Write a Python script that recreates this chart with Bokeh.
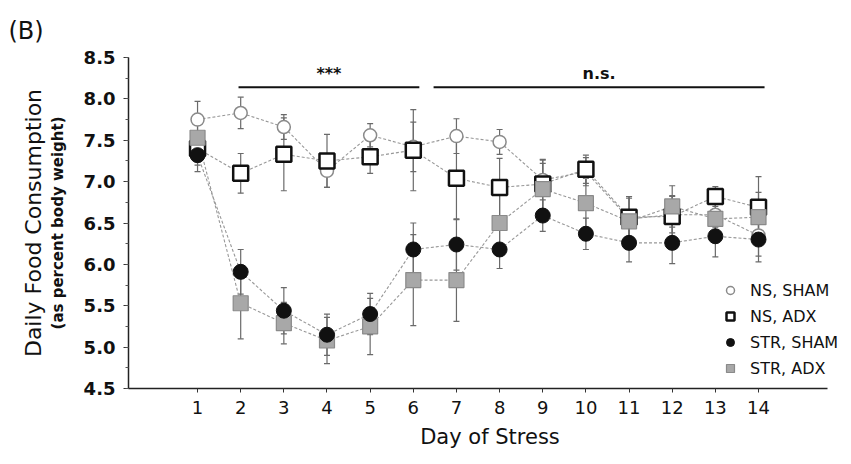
from bokeh.plotting import figure
from bokeh.models import (Range1d, FixedTicker, Whisker, TeeHead, ColumnDataSource,
                          Legend, LegendItem, LinearAxis)
from bokeh.core.properties import value
from bokeh.embed import file_html
from bokeh.resources import INLINE

# Day of stress
days = list(range(1, 15))

# Daily food consumption (% body weight), mean and SEM per group
ns_sham = [7.75, 7.83, 7.66, 7.13, 7.56, 7.42, 7.55, 7.48, 7.02, 7.12, 6.55, 6.60, 6.60, 6.35]
ns_sham_err = [0.22, 0.19, 0.15, 0.20, 0.14, 0.30, 0.21, 0.15, 0.20, 0.17, 0.25, 0.22, 0.15, 0.25]

ns_adx = [7.40, 7.10, 7.33, 7.25, 7.30, 7.38, 7.04, 6.93, 6.97, 7.15, 6.57, 6.58, 6.82, 6.69]
ns_adx_err = [0.20, 0.24, 0.44, 0.32, 0.20, 0.49, 0.50, 0.35, 0.30, 0.17, 0.25, 0.25, 0.12, 0.37]

str_sham = [7.32, 5.91, 5.44, 5.15, 5.40, 6.18, 6.24, 6.18, 6.59, 6.37, 6.26, 6.26, 6.34, 6.30]
str_sham_err = [0.20, 0.27, 0.28, 0.25, 0.25, 0.32, 0.31, 0.23, 0.19, 0.19, 0.23, 0.25, 0.25, 0.27]

str_adx = [7.53, 5.53, 5.29, 5.08, 5.25, 5.81, 5.81, 6.50, 6.91, 6.74, 6.52, 6.70, 6.55, 6.57]
str_adx_err = [0.15, 0.43, 0.25, 0.28, 0.34, 0.55, 0.50, 0.40, 0.35, 0.30, 0.30, 0.25, 0.28, 0.30]

group_names = ["NS, SHAM", "NS, ADX", "STR, SHAM", "STR, ADX"]

# Significance brackets: (start day, end day, label)
sig_start = [1.95, 6.47]
sig_end = [6.14, 14.14]
sig_text = ["***", "n.s."]
sig_level = 8.14

y_ticks = [4.5, 5.0, 5.5, 6.0, 6.5, 7.0, 7.5, 8.0, 8.5]

FONT = "DejaVu Sans"
INK = "#111111"

p = figure(width=851, height=464, output_backend="svg", toolbar_location=None,
           x_range=Range1d(-0.6, 16.155), y_range=Range1d(4.5, 8.5),
           min_border_left=128, min_border_right=0, min_border_top=57,
           min_border_bottom=76)
p.outline_line_color = None
p.xgrid.visible = False
p.ygrid.visible = False
p.background_fill_color = "white"
p.border_fill_color = "white"

# Panel tag
p.title.text = "(B)"
p.title.align = "left"
p.title.offset = -120
p.title.standoff = 26
p.title.text_font = FONT
p.title.text_font_size = "24px"
p.title.text_font_style = "normal"
p.title.text_color = INK

# Axes
p.xaxis.ticker = FixedTicker(ticks=days)
p.yaxis.ticker = FixedTicker(ticks=y_ticks,
                             minor_ticks=[4.5 + 0.25 * i for i in range(17)])
for a in (p.xaxis[0], p.yaxis[0]):
    a.axis_line_color = "#222222"
    a.axis_line_width = 1.5
    a.major_tick_line_color = "#333333"
    a.minor_tick_line_color = "#555555"
    a.major_label_text_font = FONT
    a.major_label_text_color = INK
    a.major_tick_in = 0
ax = p.xaxis[0]
ax.bounds = (-0.6, 15.6)
ax.major_tick_out = 4
ax.minor_tick_out = 0
ax.major_label_standoff = 8
ax.major_label_text_font_size = "18px"
ax.axis_label = "Day of Stress"
ax.axis_label_text_font = FONT
ax.axis_label_text_font_size = "21px"
ax.axis_label_text_font_style = "normal"
ax.axis_label_text_color = INK
ax.axis_label_standoff = 8

ay = p.yaxis[0]
ay.major_tick_out = 5
ay.minor_tick_out = 3
ay.minor_tick_in = 0
ay.major_label_standoff = 8
ay.major_label_text_font_style = "bold"
ay.major_label_text_font_size = "18px"
ay.major_label_overrides = {t: f"{t:.1f}" for t in y_ticks}
ay.axis_label = "(as percent body weight)"
ay.axis_label_text_font = FONT
ay.axis_label_text_font_size = "15px"
ay.axis_label_text_font_style = "bold"
ay.axis_label_text_color = INK
ay.axis_label_standoff = 14

# Outer y title on a bare axis
outer = LinearAxis(axis_label="Daily Food Consumption", axis_label_text_font=FONT,
                   axis_label_text_font_size="22px", axis_label_text_font_style="normal",
                   axis_label_text_color=INK, axis_label_standoff=0,
                   axis_line_color=None, major_tick_line_color=None,
                   minor_tick_line_color=None, major_label_text_font_size="0px",
                   major_label_standoff=0, ticker=FixedTicker(ticks=[]))
p.add_layout(outer, "left")

# Significance brackets
sig_src = ColumnDataSource(dict(x0=sig_start, x1=sig_end, y=[sig_level] * 2,
                                xm=[(a + b) / 2 for a, b in zip(sig_start, sig_end)],
                                t=sig_text))
p.segment(x0="x0", y0="y", x1="x1", y1="y", source=sig_src, line_color=INK,
          line_width=2)
p.text(x="xm", y="y", text="t", source=sig_src, text_align="center",
       text_baseline="bottom", y_offset=-4, text_font=value(FONT),
       text_font_size="16px", text_font_style="bold", text_color=INK)

series = [
    (ns_sham, ns_sham_err),
    (ns_adx, ns_adx_err),
    (str_sham, str_sham_err),
    (str_adx, str_adx_err),
]

# Dashed connecting lines and error bars
for vals, errs in series:
    p.line(days, vals, line_color="#989898", line_width=1.1, line_dash="3 2")
for vals, errs in series:
    src = ColumnDataSource(dict(x=days, lo=[v - e for v, e in zip(vals, errs)],
                                hi=[v + e for v, e in zip(vals, errs)]))
    p.add_layout(Whisker(base="x", lower="lo", upper="hi", source=src,
                         line_color="#6a6a6a", line_width=1.2,
                         upper_head=TeeHead(size=6, line_color="#6a6a6a", line_width=1.2),
                         lower_head=TeeHead(size=6, line_color="#6a6a6a", line_width=1.2)))

# Markers
r_ns_sham = p.scatter(days, ns_sham, marker="circle", size=13, fill_color="white",
                      line_color="#8a8a8a", line_width=1.5)
r_ns_adx = p.scatter(days, ns_adx, marker="square", size=15, fill_color="white",
                     line_color=INK, line_width=2.5)
r_str_adx = p.scatter(days, str_adx, marker="square", size=15, fill_color="#a8a8a8",
                      line_color="#8a8a8a", line_width=1.2)
r_str_sham = p.scatter(days, str_sham, marker="circle", size=15, fill_color=INK,
                       line_color=INK, line_width=1)

legend = Legend(items=[
    LegendItem(label=group_names[0], renderers=[r_ns_sham]),
    LegendItem(label=group_names[1], renderers=[r_ns_adx]),
    LegendItem(label=group_names[2], renderers=[r_str_sham]),
    LegendItem(label=group_names[3], renderers=[r_str_adx]),
], location=(592, 10), background_fill_alpha=0, border_line_color=None,
    padding=0, margin=0, spacing=6, glyph_width=20, glyph_height=20,
    label_height=20, label_standoff=10, label_text_font=FONT,
    label_text_font_size="16px", label_text_color=INK)
p.add_layout(legend)

open("out.html", "w").write(file_html(p, INLINE))
